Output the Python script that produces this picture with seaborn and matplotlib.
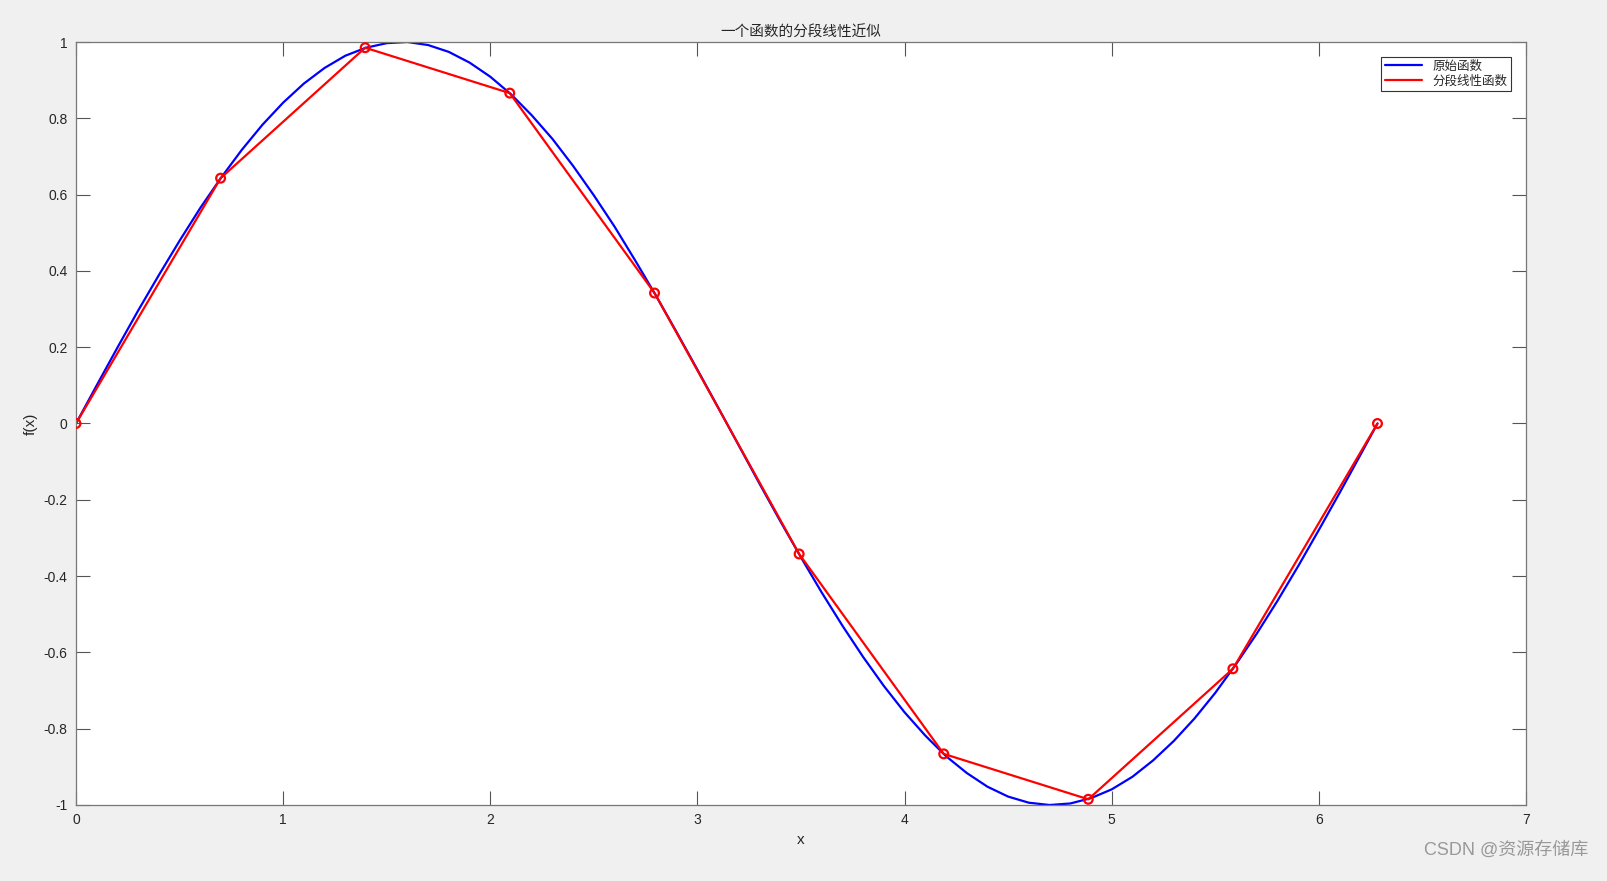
import matplotlib
matplotlib.use("Agg")
import matplotlib.pyplot as plt
import seaborn as sns
from matplotlib.ticker import FuncFormatter, MultipleLocator

# values
x_curve = [0.0, 0.1, 0.2, 0.3, 0.4, 0.5, 0.6, 0.7, 0.8, 0.9,
           1.0, 1.1, 1.2, 1.3, 1.4, 1.5, 1.6, 1.7, 1.8, 1.9,
           2.0, 2.1, 2.2, 2.3, 2.4, 2.5, 2.6, 2.7, 2.8, 2.9,
           3.0, 3.1, 3.2, 3.3, 3.4, 3.5, 3.6, 3.7, 3.8, 3.9,
           4.0, 4.1, 4.2, 4.3, 4.4, 4.5, 4.6, 4.7, 4.8, 4.9,
           5.0, 5.1, 5.2, 5.3, 5.4, 5.5, 5.6, 5.7, 5.8, 5.9,
           6.0, 6.1, 6.2, 6.283]
y_curve = [0.000, 0.100, 0.199, 0.296, 0.389, 0.479, 0.565, 0.644, 0.717, 0.783,
           0.841, 0.891, 0.932, 0.964, 0.985, 0.997, 1.000, 0.992, 0.974, 0.946,
           0.909, 0.863, 0.808, 0.746, 0.675, 0.598, 0.516, 0.427, 0.335, 0.239,
           0.141, 0.042, -0.058, -0.158, -0.256, -0.351, -0.443, -0.530, -0.612, -0.688,
           -0.757, -0.818, -0.872, -0.916, -0.952, -0.978, -0.994, -1.000, -0.996, -0.982,
           -0.959, -0.926, -0.883, -0.832, -0.773, -0.706, -0.631, -0.551, -0.465, -0.374,
           -0.279, -0.182, -0.083, 0.000]

x_nodes = [0.0, 0.698, 1.396, 2.094, 2.793, 3.491, 4.189, 4.887, 5.585, 6.283]
y_nodes = [0.0, 0.643, 0.985, 0.866, 0.342, -0.342, -0.866, -0.985, -0.643, 0.0]

sns.set_style("ticks")
plt.rcParams['font.family'] = ['Liberation Sans', 'Noto Sans CJK SC', 'DejaVu Sans']

fig = plt.figure(figsize=(16.08, 8.81), dpi=100, facecolor='#f0f0f0')
ax = fig.add_axes([76/1608, 1-805/881, (1526-76)/1608, (805-42)/881])
ax.set_facecolor('white')

sns.lineplot(x=x_curve, y=y_curve, ax=ax, color='blue', linewidth=1.6, label='原始函数', sort=False)
sns.lineplot(x=x_nodes, y=y_nodes, ax=ax, color='red', linewidth=1.6, label='分段线性函数', sort=False)
ax.scatter(x_nodes, y_nodes, s=40, facecolors='none', edgecolors='red', linewidths=1.6, zorder=5)

ax.set_xlim(0, 7)
ax.set_ylim(-1, 1)
ax.xaxis.set_major_locator(MultipleLocator(1))
ax.yaxis.set_major_locator(MultipleLocator(0.2))
fmt = FuncFormatter(lambda v, p: '{:g}'.format(round(v, 2)))
ax.xaxis.set_major_formatter(fmt)
ax.yaxis.set_major_formatter(fmt)

ax.tick_params(direction='in', top=True, right=True, length=10, width=0.8,
               color='#555555', labelcolor='#262626', labelsize=10, pad=6)
for s in ax.spines.values():
    s.set_color('#777777')
    s.set_linewidth(0.9)

ax.set_title('一个函数的分段线性近似', fontsize=10.5, color='#262626', pad=4)
ax.set_xlabel('x', fontsize=11, color='#262626')
ax.set_ylabel('f(x)', fontsize=11, color='#262626', labelpad=4)

leg = ax.legend(loc='upper right', fontsize=9, frameon=True, fancybox=False,
                edgecolor='#333333', framealpha=1, borderaxespad=1.2,
                handlelength=3, borderpad=0.3, labelspacing=0.2)
leg.get_frame().set_linewidth(0.8)

fig.text(0.988, 0.035, 'CSDN @资源存储库', ha='right', va='center', fontsize=13, color='#999999')

fig.savefig('out.png', dpi=100, facecolor=fig.get_facecolor())
